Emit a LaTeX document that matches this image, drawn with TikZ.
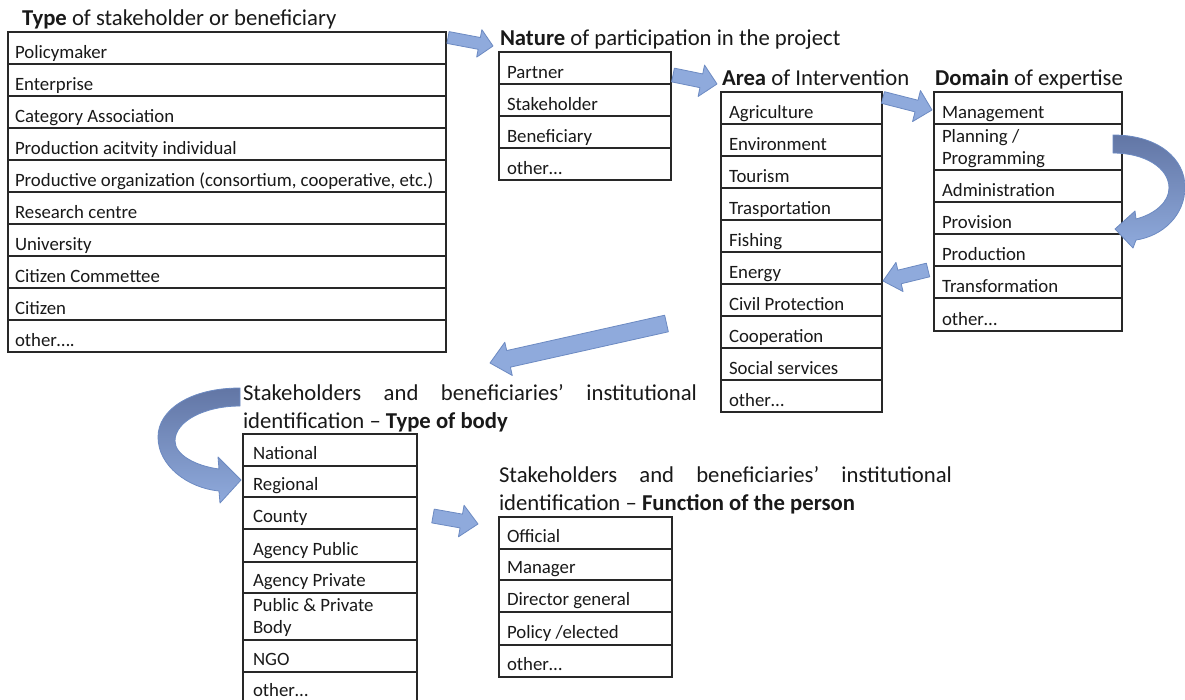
\documentclass[tikz,border=0pt]{standalone}
\usepackage{fontspec}
\setmainfont{Carlito}
\usetikzlibrary{calc}
\definecolor{arrfill}{RGB}{143,170,220}
\definecolor{arredge}{RGB}{108,138,194}
\definecolor{arrdark}{RGB}{98,118,165}
\definecolor{gridc}{RGB}{40,40,40}
\definecolor{inkc}{RGB}{25,25,25}
\tikzset{
 cell/.style={draw=gridc, line width=1.3pt, rectangle, inner sep=0pt, outer sep=0pt, anchor=north west},
 txt/.style={inner sep=0pt, outer sep=0pt, anchor=base west, font=\fontsize{18.8}{22.5}\selectfont, text=inkc},
 txttwo/.style={inner sep=0pt, outer sep=0pt, anchor=south west, align=left, font=\fontsize{18.8}{22.5}\selectfont, text=inkc},
 ttl/.style={inner sep=0pt, outer sep=0pt, anchor=base west, font=\fontsize{22.7}{28}\selectfont, text=inkc},
 blockarrow/.style={fill=arrfill, draw=arredge, line width=0.8pt, line join=round},
 curvarrow/.style={top color=arrdark, bottom color=arrfill, draw=arredge, line width=0.8pt, line join=round},
}
% tail, tip, shaft half width, head half width, head length, name
\newcommand\blockarr[6]{%
 \coordinate (#6h) at ($(#2)!#5pt!(#1)$);
 \path[blockarrow] ($(#1)!#3pt!90:(#2)$) -- ($(#6h)!#3pt!-90:(#1)$) -- ($(#6h)!#4pt!-90:(#1)$)
   -- (#2) -- ($(#6h)!#4pt!90:(#1)$) -- ($(#6h)!#3pt!90:(#1)$) -- ($(#1)!#3pt!-90:(#2)$) -- cycle;
}
\begin{document}
\begin{tikzpicture}[x=1pt,y=-1pt]
\useasboundingbox[fill=white] (0,0) rectangle (1185,699);
\clip (0,0) rectangle (1185,699);

% ---------- Table 1: Type of stakeholder ----------
\node[ttl] (ttype) at (22,25) {\textbf{Type} of stakeholder or beneficiary};
\foreach \lbl [count=\i] in {Policymaker,Enterprise,Category Association,Production acitvity individual,{Productive organization (consortium, cooperative, etc.)},Research centre,University,Citizen Commettee,Citizen,other….}{
  \node[cell, minimum width=438, minimum height=32] (ty\i) at (8,{32*\i}) {};
  \node[txt] (tyt\i) at ([shift={(7,-6)}]ty\i.south west) {\lbl};
}

% ---------- Table 2: Nature ----------
\node[ttl] (tnat) at (500,45) {\textbf{Nature} of participation in the project};
\foreach \lbl [count=\i] in {Partner,Stakeholder,Beneficiary,other…}{
  \node[cell, minimum width=172, minimum height=32] (na\i) at (499,{52+32*(\i-1)}) {};
  \node[txt] (nat\i) at ([shift={(8,-6)}]na\i.south west) {\lbl};
}

% ---------- Table 3: Area ----------
\node[ttl] (tarea) at (722,85) {\textbf{Area} of Intervention};
\foreach \lbl [count=\i] in {Agriculture,Environment,Tourism,Trasportation,Fishing,Energy,Civil Protection,Cooperation,Social services,other…}{
  \node[cell, minimum width=161, minimum height=32] (ar\i) at (721,{92+32*(\i-1)}) {};
  \node[txt] (art\i) at ([shift={(8,-6)}]ar\i.south west) {\lbl};
}

% ---------- Table 4: Domain ----------
\node[ttl] (tdom) at (935,85) {\textbf{Domain} of expertise};
\foreach \lbl/\ya/\hh [count=\i] in {Management/92/32,{}/124/46,Administration/170/32,Provision/202/32,Production/234/32,Transformation/266/32,other…/298/33}{
  \node[cell, minimum width=188, minimum height=\hh] (do\i) at (934,\ya) {};
  \node[txt] (dot\i) at ([shift={(8,-6)}]do\i.south west) {\lbl};
}
\node[txttwo] (dot2b) at ([shift={(8,-2)}]do2.south west) {Planning /\\Programming};

% ---------- Table 5: Type of body ----------
\node[ttl] (tbody1) at (243,400) {\makebox[454pt][s]{Stakeholders and beneficiaries’ institutional}};
\node[ttl] (tbody2) at (243,428) {identification – \textbf{Type of body}};
\foreach \lbl/\ya/\hh [count=\i] in {National/434/32,Regional/466/31,County/497/32,Agency Public/529/33,Agency Private/562/31,{}/593/47,NGO/640/32,other…/672/31}{
  \node[cell, minimum width=174, minimum height=\hh] (bo\i) at (243,\ya) {};
  \node[txt] (bot\i) at ([shift={(10,-7)}]bo\i.south west) {\lbl};
}
\node[txttwo] (bot6b) at ([shift={(10,-3)}]bo6.south west) {Public \& Private\\Body};

% ---------- Table 6: Function of the person ----------
\node[ttl] (tfun1) at (499,482) {\makebox[453pt][s]{Stakeholders and beneficiaries’ institutional}};
\node[ttl] (tfun2) at (499,510) {identification – \textbf{Function of the person}};
\foreach \lbl/\ya/\hh [count=\i] in {Official/517/32,Manager/549/31,Director general/580/32,{Policy /elected}/612/33,other…/645/32}{
  \node[cell, minimum width=173, minimum height=\hh] (fu\i) at (499,\ya) {};
  \node[txt] (fut\i) at ([shift={(8,-7)}]fu\i.south west) {\lbl};
}

% ---------- straight block arrows ----------
\coordinate (a1s) at (448,37.5);   \coordinate (a1e) at (493,46);
\blockarr{a1s}{a1e}{6}{14}{14}{a1}
\coordinate (a2s) at (673,75);     \coordinate (a2e) at (717,84);
\blockarr{a2s}{a2e}{7}{16}{16}{a2}
\coordinate (a3s) at (883,97.5);   \coordinate (a3e) at (932,110);
\blockarr{a3s}{a3e}{6}{16}{16}{a3}
\coordinate (a4s) at (928,270);    \coordinate (a4e) at (883,281);
\blockarr{a4s}{a4e}{7}{15}{17}{a4}
\coordinate (a5s) at (666.5,323.5);\coordinate (a5e) at (490,363);
\blockarr{a5s}{a5e}{8.5}{17}{19}{a5}
\coordinate (a6s) at (433,516);    \coordinate (a6e) at (478,524);
\blockarr{a6s}{a6e}{7}{16}{17}{a6}

% ---------- curved block arrows ----------
\shade[curvarrow] (1113,135) .. controls (1160,135) and (1185,160) .. (1185,187)
  .. controls (1185,215) and (1163,236) .. (1136,240) -- (1133,248) -- (1115,229) -- (1135,211) -- (1136,219)
  .. controls (1155,214) and (1169,202) .. (1169,188)
  .. controls (1169,168) and (1145,153) .. (1113,153) -- cycle;
\shade[curvarrow] (240,388) .. controls (190,388) and (158,410) .. (158,437)
  .. controls (158,466) and (188,488) .. (219,491) -- (220,503) -- (241,480) -- (218,457) -- (219,469)
  .. controls (196,466) and (175,455) .. (175,441)
  .. controls (175,421) and (205,406) .. (240,406) -- cycle;
\end{tikzpicture}
\end{document}
